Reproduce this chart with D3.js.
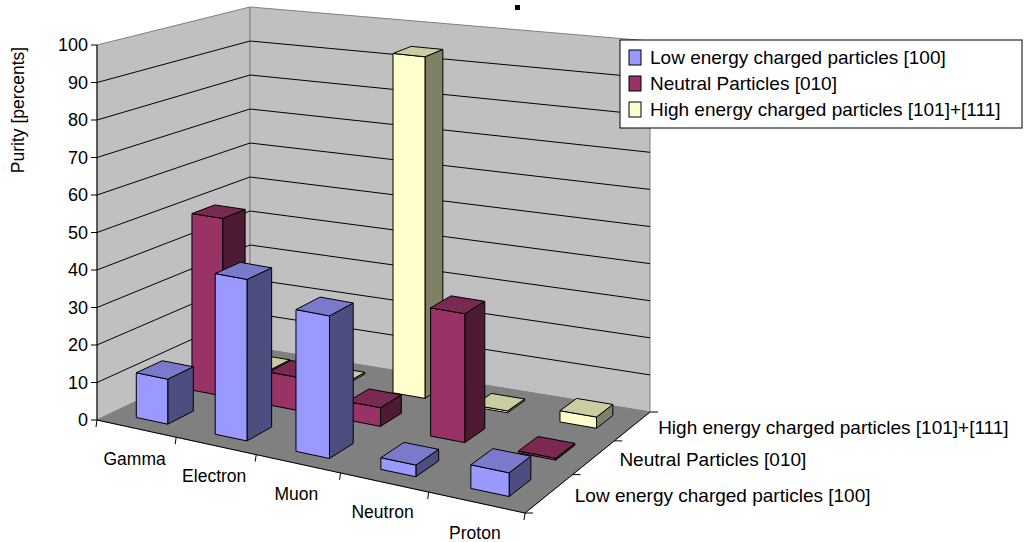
<!DOCTYPE html>
<html><head><meta charset="utf-8">
<script src="https://cdn.jsdelivr.net/npm/d3@7"></script>
<style>body{margin:0;background:#fff}svg{font-family:Arial,"Liberation Sans",sans-serif}</style>
</head><body><svg id="c" width="1029" height="542"></svg>
<script>
const categories = ["Gamma", "Electron", "Muon", "Neutron", "Proton"];
const seriesNames = ["Low energy charged particles [100]", "Neutral Particles [010]", "High energy charged particles [101]+[111]"];
const lowEnergy = [12, 42.5, 37, 3, 6];
const neutral = [49, 9, 5, 34, 0.5];
const highEnergy = [0.5, 0.5, 94, 0.5, 3];
const yTicks = [0, 10, 20, 30, 40, 50, 60, 70, 80, 90, 100];
const seriesValues = [lowEnergy, neutral, highEnergy];
const colors = [
  {front: "#9999ff", side: "#4d4d80", top: "#7a7acc"},
  {front: "#993366", side: "#4d1a33", top: "#7a2952"},
  {front: "#ffffcc", side: "#808066", top: "#cccca3"}
];

const svg = d3.select("#c");
// floor corners
const FL = [97, 420], FR = [525, 513], BL = [250, 347], BR = [650, 412];
const kF = d3.scaleLinear().domain([0, 5]).range([3.75, 4.0]);
const kB = d3.scaleLinear().domain([0, 5]).range([3.4, 3.71]);
// perspective: slots widen toward the viewer
const uS = d3.scaleLinear().domain([0, 1, 2, 3, 4, 5]).range([0, 0.185, 0.372, 0.569, 0.775, 1]);
const vS = d3.scaleLinear().domain([0, 1, 2, 3]).range([0, 0.38, 0.714, 1]);
const hS = d3.scaleLinear().domain([0, 100]).range([0, 100]);

function P(u, v, h) {
  const a = uS(u), b = vS(v);
  const front = d3.interpolate(FL, FR)(a), back = d3.interpolate(BL, BR)(a);
  const p = d3.interpolate(front, back)(b);
  const k = d3.interpolateNumber(kF(u), kB(u))(b);
  return [p[0], p[1] - hS(h) * k];
}
const poly = pts => pts.map(p => p.join(",")).join(" ");

// walls and floor
svg.append("polygon").attr("points", poly([P(0,0,0), P(0,3,0), P(0,3,100), P(0,0,100)]))
  .attr("fill", "#c0c0c0").attr("stroke", "#808080");
svg.append("polygon").attr("points", poly([P(0,3,0), P(5,3,0), P(5,3,100), P(0,3,100)]))
  .attr("fill", "#c0c0c0").attr("stroke", "#808080");
svg.append("polygon").attr("points", poly([P(0,0,0), P(5,0,0), P(5,3,0), P(0,3,0)]))
  .attr("fill", "#808080").attr("stroke", "#808080");

yTicks.forEach(t => {
  if (t > 0 && t < 100) svg.append("polyline").attr("points", poly([P(0,0,t), P(0,3,t), P(5,3,t)]))
    .attr("fill", "none").attr("stroke", "#000").attr("stroke-width", 1);
  const p = P(0,0,t);
  svg.append("line").attr("x1", p[0]-6).attr("x2", p[0]).attr("y1", p[1]).attr("y2", p[1]).attr("stroke", "#000");
  svg.append("text").attr("x", p[0]-9).attr("y", p[1]+6).attr("text-anchor", "end")
    .attr("font-size", 18).text(t);
});
svg.append("line").attr("x1", P(0,0,0)[0]).attr("y1", P(0,0,0)[1]).attr("x2", P(0,0,100)[0]).attr("y2", P(0,0,100)[1]).attr("stroke", "#000");

// bars: back row first, left to right
for (let s = 2; s >= 0; s--) {
  categories.forEach((c, i) => {
    const val = seriesValues[s][i], col = colors[s];
    const u0 = i + 0.3, u1 = i + 0.7, v0 = s + 0.27, v1 = s + 0.72;
    const g = svg.append("g").attr("stroke", "#000").attr("stroke-width", 1).attr("stroke-linejoin", "round");
    g.append("polygon").attr("points", poly([P(u1,v0,0), P(u1,v1,0), P(u1,v1,val), P(u1,v0,val)])).attr("fill", col.side);
    g.append("polygon").attr("points", poly([P(u0,v0,0), P(u1,v0,0), P(u1,v0,val), P(u0,v0,val)])).attr("fill", col.front);
    g.append("polygon").attr("points", poly([P(u0,v0,val), P(u1,v0,val), P(u1,v1,val), P(u0,v1,val)])).attr("fill", col.top);
  });
}

// category axis
svg.append("line").attr("x1", FL[0]).attr("y1", FL[1]).attr("x2", FR[0]).attr("y2", FR[1]).attr("stroke", "#000");
d3.range(6).forEach(i => {
  const p = P(i, 0, 0);
  svg.append("line").attr("x1", p[0]).attr("y1", p[1]).attr("x2", p[0]-1).attr("y2", p[1]+7).attr("stroke", "#000");
});
categories.forEach((c, i) => {
  const p = P(i + 0.5, 0, 0);
  svg.append("text").attr("x", p[0] - 2).attr("y", p[1] + 36).attr("text-anchor", "middle")
    .attr("font-size", 17.5).text(c);
});
// series axis
svg.append("line").attr("x1", FR[0]).attr("y1", FR[1]).attr("x2", BR[0]).attr("y2", BR[1]).attr("stroke", "#000");
d3.range(4).forEach(s => {
  const p = P(5, s, 0);
  svg.append("line").attr("x1", p[0]).attr("y1", p[1]).attr("x2", p[0]+8).attr("y2", p[1]).attr("stroke", "#000");
});
seriesNames.forEach((n, s) => {
  const p = P(5, s + 0.5, 0);
  svg.append("text").attr("x", p[0] + 26).attr("y", p[1] + 8).attr("font-size", 19).text(n);
});

svg.append("text").attr("transform", "translate(24,110) rotate(-90)").attr("text-anchor", "middle")
  .attr("font-size", 17.5).text("Purity [percents]");
svg.append("rect").attr("x", 515).attr("y", 5).attr("width", 5).attr("height", 5).attr("fill", "#000");

// legend
const lg = svg.append("g").attr("transform", "translate(620,40)");
lg.append("rect").attr("width", 402).attr("height", 88).attr("fill", "#fff").attr("stroke", "#000");
seriesNames.forEach((n, s) => {
  lg.append("rect").attr("x", 9).attr("y", 10 + s * 26).attr("width", 12).attr("height", 15)
    .attr("fill", colors[s].front).attr("stroke", "#000");
  lg.append("text").attr("x", 30).attr("y", 24 + s * 26).attr("font-size", 19).text(n);
});
</script></body></html>
